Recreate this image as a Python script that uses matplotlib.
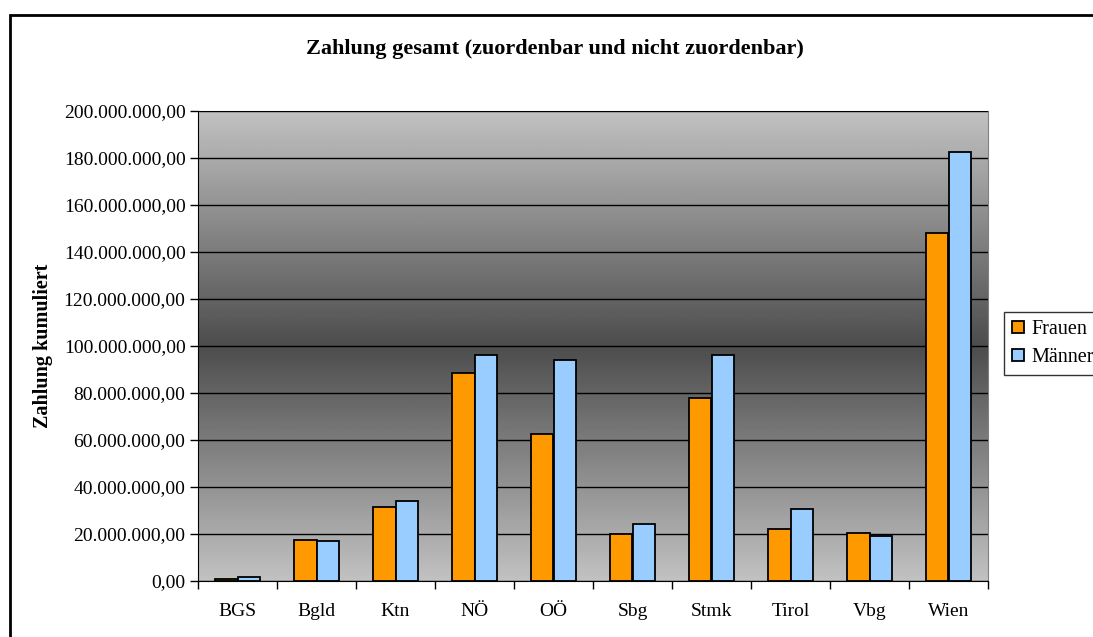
import numpy as np
import matplotlib
matplotlib.use("Agg")
import matplotlib.pyplot as plt
from matplotlib.patches import Rectangle
from matplotlib.ticker import FuncFormatter, MultipleLocator

plt.rcParams['font.family'] = ['Liberation Serif', 'DejaVu Serif']

# Werte in Mio. Euro
laender = ['BGS', 'Bgld', 'Ktn', 'NÖ', 'OÖ', 'Sbg', 'Stmk', 'Tirol', 'Vbg', 'Wien']
frauen = [0.7, 17.6, 31.5, 88.4, 62.6, 19.9, 77.7, 22.3, 20.4, 148.0]
maenner = [1.8, 17.0, 34.2, 96.3, 94.2, 24.4, 96.3, 30.8, 19.0, 182.7]

W, H = 1093, 637


def de_fmt(v, pos=None):
    s = format(v, ',.2f')
    return s.replace(',', 'X').replace('.', ',').replace('X', '.')


fig = plt.figure(figsize=(W / 100, H / 100), dpi=100)
ax = fig.add_axes([198 / W, (H - 581) / H, 790 / W, 470 / H])

# Hintergrund-Verlauf: hell oben/unten, dunkel in der Mitte
t = np.linspace(0, 1, 256)
shade = 0.30 + 0.46 * np.abs(t - 0.5) * 2
grad = np.repeat(shade[:, None], 2, axis=1)
ax.imshow(grad, cmap='gray', vmin=0, vmax=1, aspect='auto',
          extent=[-0.5, len(laender) - 0.5, 0, 200e6], origin='lower', zorder=0)

x = np.arange(len(laender))
bw = 0.286
ax.bar(x - bw / 2, np.array(frauen) * 1e6, bw, color='#FF9900',
       edgecolor='black', linewidth=1.3, label='Frauen', zorder=3)
ax.bar(x + bw / 2, np.array(maenner) * 1e6, bw, color='#99CCFF',
       edgecolor='black', linewidth=1.3, label='Männer', zorder=3)

ax.set_xlim(-0.5, len(laender) - 0.5)
ax.set_ylim(0, 200e6)
ax.yaxis.set_major_locator(MultipleLocator(20e6))
ax.yaxis.set_major_formatter(FuncFormatter(de_fmt))
ax.grid(axis='y', color='black', linewidth=1, zorder=1)
ax.set_axisbelow(False)

ax.set_xticks(np.arange(len(laender) + 1) - 0.5)
ax.set_xticklabels([])
ax.set_xticks(x, minor=True)
ax.set_xticklabels(laender, minor=True)
ax.tick_params(axis='x', which='major', length=6, width=1, direction='out')
ax.tick_params(axis='x', which='minor', length=0, pad=16, labelsize=14)
ax.tick_params(axis='y', length=6, width=1, direction='out', labelsize=14, pad=3)

for side in ['top', 'right']:
    ax.spines[side].set_color('#808080')
for side in ['left', 'bottom']:
    ax.spines[side].set_color('black')

fig.text(555 / W, 1 - 49 / H, 'Zahlung gesamt (zuordenbar und nicht zuordenbar)',
         ha='center', va='center', fontsize=16, fontweight='bold')
fig.text(43 / W, 1 - 346 / H, 'Zahlung kumuliert', rotation=90,
         ha='center', va='center', fontsize=14.5, fontweight='bold')

fig.patches.append(Rectangle((10 / W, -0.05), 1.2, 1 - 15 / H + 0.05,
                             transform=fig.transFigure, fill=False,
                             edgecolor='black', linewidth=2))

fig.legend(loc='upper left', bbox_to_anchor=(1004 / W, 1 - 312 / H),
           frameon=True, fancybox=False, edgecolor='black', fontsize=14.5,
           handlelength=0.6, handleheight=0.6, handletextpad=0.35,
           borderaxespad=0, borderpad=0.4, labelspacing=0.45)

fig.savefig('out.png', dpi=100)
